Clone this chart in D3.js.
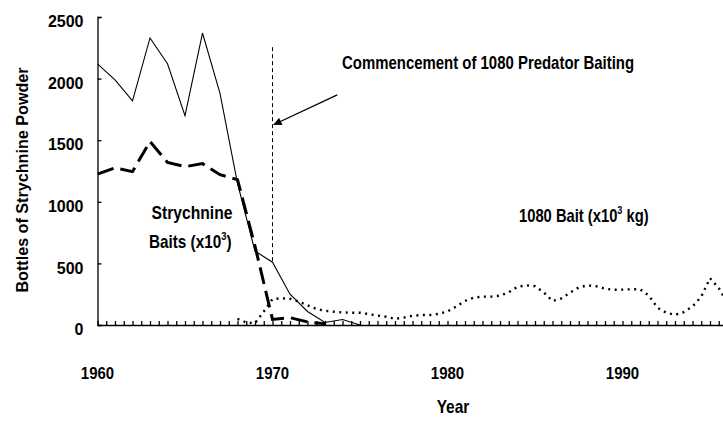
<!DOCTYPE html>
<html lang="en">
    <head>
        <meta charset="utf-8">
        <title>Strychnine and 1080 Baiting</title>
        <style>
            body{ margin:0; background:white; }
            svg text{
                font-family: "Liberation Sans", Arial, sans-serif;
                font-weight: bold;
                fill: black;
            }
        </style>
    </head>
    <body>
        <svg id="chart" width="723" height="421"></svg>
        <script src="https://d3js.org/d3.v7.min.js"></script>
        <script>
            // strychnine powder (bottles), yearly
            const powderYears = [1960,1961,1962,1963,1964,1965,1966,1967,1968,1969,1970,1971,1972,1973,1974,1975]
            const powderValues = [2120,1990,1820,2330,2120,1700,2370,1880,1150,600,510,250,110,20,45,0]

            // strychnine baits (x10^3), yearly
            const baitYears = [1960,1961,1962,1963,1964,1965,1966,1967,1968,1969,1970,1971,1972,1973]
            const baitValues = [1225,1275,1245,1490,1320,1285,1310,1220,1180,640,45,60,25,10]

            // 1080 bait (x10^3 kg), half-yearly from 1968
            const bait1080Years = d3.range(1968, 1996.01, 0.5)
            const bait1080Values = [50,20,15,110,210,217,213,190,160,130,115,108,102,100,100,88,77,67,50,60,
                                    75,81,81,90,110,150,195,222,230,230,238,265,310,322,315,265,195,215,262,305,
                                    322,315,295,286,287,290,290,240,140,100,82,105,150,230,380,300,180]

            const yTicks = [0,500,1000,1500,2000,2500]
            const decadeTicks = [1960,1970,1980,1990]
            const commencementYear = 1970

            const svg = d3.select("#chart")
            const mLeft = 97.5, mTop = 17, mBottom = 325

            const x = d3.scaleLinear()
                        .domain([1960,1996])
                        .range([mLeft, mLeft + 36*17.5])
            const y = d3.scaleLinear()
                        .domain([0,2500])
                        .range([mBottom, mTop])

            svg.append("clipPath").attr("id","clip")
                .append("rect").attr("x",mLeft).attr("y",0).attr("width",723-mLeft).attr("height",mBottom+2)

            // narrow bold text (squeezed horizontally)
            function narrowText(px, py, size, sx, anchor){
                return svg.append("text")
                    .attr("transform",`translate(${px},${py}) scale(${sx},1)`)
                    .attr("text-anchor",anchor || "start")
                    .attr("font-size",size)
            }

            //y axis
            const yAxis = d3.axisLeft(y)
                            .tickValues(yTicks)
                            .tickSize(-4)
                            .tickPadding(14)
                            .tickFormat(d3.format("d"))
            const gy = svg.append("g")
                .attr("transform",`translate(${mLeft},0)`)
                .call(yAxis)
            gy.attr("font-family",null)
            gy.select(".domain").attr("stroke","black").attr("stroke-width",1.3)
            gy.selectAll(".tick line").attr("stroke","black").attr("stroke-width",1.3)
            gy.selectAll(".tick text")
                .attr("font-size",16)
                .attr("dy","0.6em")

            //x axis - half year ticks
            const halfYears = d3.range(1960, 1996.01, 0.5)
            const xAxis = d3.axisBottom(x)
                            .tickValues(halfYears)
                            .tickSize(-4)
                            .tickSizeOuter(0)
                            .tickFormat("")
            const gx = svg.append("g")
                .attr("transform",`translate(0,${mBottom})`)
                .call(xAxis)
            gx.select(".domain").attr("stroke","black").attr("stroke-width",1.6)
            gx.selectAll(".tick line").attr("stroke","black").attr("stroke-width",1.3)

            //decade labels
            const xLabels = d3.axisBottom(x)
                            .tickValues(decadeTicks)
                            .tickSize(0)
                            .tickPadding(42)
                            .tickFormat(d3.format("d"))
            const gl = svg.append("g")
                .attr("transform",`translate(0,${mBottom})`)
                .call(xLabels)
            gl.attr("font-family",null)
            gl.select(".domain").remove()
            gl.selectAll(".tick text")
                .attr("font-size",17)
                .attr("transform","scale(0.88,1)")
                .attr("x",function(){ return 0 })
            gl.selectAll(".tick").each(function(d){
                d3.select(this).attr("transform",`translate(${x(d)},0)`)
            })

            //axis titles
            narrowText(453, 413, 18, 0.86, "middle").text("Year")
            svg.append("text")
                .attr("transform","translate(28,180) rotate(-90) scale(0.95,1)")
                .attr("text-anchor","middle")
                .attr("font-size",17)
                .text("Bottles of Strychnine Powder")

            const plot = svg.append("g").attr("clip-path","url(#clip)")

            const line = d3.line().x(d=>x(d[0])).y(d=>y(d[1]))

            //1080 bait dotted
            plot.append("path")
                .datum(d3.zip(bait1080Years, bait1080Values))
                .attr("d",line)
                .attr("fill","none")
                .attr("stroke","black")
                .attr("stroke-width",2.4)
                .attr("stroke-dasharray","2,4.5")

            //strychnine baits heavy dashed
            plot.append("path")
                .datum(d3.zip(baitYears, baitValues))
                .attr("d",line)
                .attr("fill","none")
                .attr("stroke","black")
                .attr("stroke-width",3)
                .attr("stroke-dasharray","17,7")

            //powder solid
            plot.append("path")
                .datum(d3.zip(powderYears, powderValues))
                .attr("d",line)
                .attr("fill","none")
                .attr("stroke","black")
                .attr("stroke-width",1.1)

            //commencement marker
            const markerBottom = powderValues[powderYears.indexOf(commencementYear)]
            svg.append("line")
                .attr("x1",x(commencementYear)).attr("x2",x(commencementYear))
                .attr("y1",y(2255)).attr("y2",y(markerBottom))
                .attr("stroke","black")
                .attr("stroke-width",1)
                .attr("stroke-dasharray","4,3")

            svg.append("defs").append("marker")
                .attr("id","arrow")
                .attr("viewBox","0 0 10 10")
                .attr("refX",10).attr("refY",5)
                .attr("markerWidth",10).attr("markerHeight",8)
                .attr("markerUnits","userSpaceOnUse")
                .attr("orient","auto")
                .append("path")
                .attr("d","M0,0 L10,5 L0,10 z")
                .attr("fill","black")

            svg.append("line")
                .attr("x1",x(1973.7)).attr("y1",y(1868))
                .attr("x2",x(commencementYear)+1).attr("y2",y(1625))
                .attr("stroke","black")
                .attr("stroke-width",1.2)
                .attr("marker-end","url(#arrow)")

            //annotations
            narrowText(342, 69, 18, 0.83).text("Commencement of 1080 Predator Baiting")

            narrowText(192, 219, 18, 0.87, "middle").text("Strychnine")
            const t2 = narrowText(149, 248, 18, 0.85)
            t2.append("tspan").text("Baits (x10")
            t2.append("tspan").attr("dy",-8).attr("font-size",11).text("3")
            t2.append("tspan").attr("dy",8).text(")")

            const t3 = narrowText(519, 222, 18, 0.82)
            t3.append("tspan").text("1080 Bait (x10")
            t3.append("tspan").attr("dy",-8).attr("font-size",11).text("3")
            t3.append("tspan").attr("dy",8).text(" kg)")
        </script>
    </body>
</html>
